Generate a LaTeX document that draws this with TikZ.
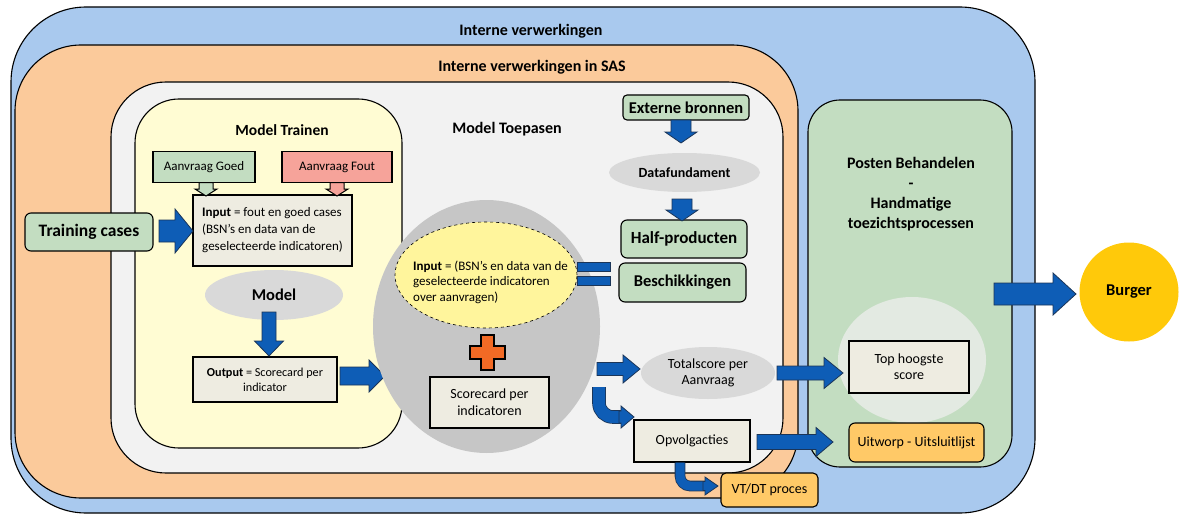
\documentclass[tikz,border=0pt]{standalone}
\usepackage{fontspec}
\setmainfont{Carlito}
\usetikzlibrary{calc,shapes.geometric}
\definecolor{outerblue}{HTML}{A9C9EE}
\definecolor{sasorange}{HTML}{FBCA9B}
\definecolor{innergrey}{HTML}{F2F2F2}
\definecolor{trainyellow}{HTML}{FFFCD3}
\definecolor{boxgreen}{HTML}{C3DDC1}
\definecolor{salmon}{HTML}{F6A39A}
\definecolor{beige}{HTML}{EEECE1}
\definecolor{ellgrey}{HTML}{D9D9D9}
\definecolor{biggrey}{HTML}{C6C6C6}
\definecolor{inputyellow}{HTML}{FFF59C}
\definecolor{arrblue}{HTML}{0E5DB6}
\definecolor{arrborder}{HTML}{1B3558}
\definecolor{crossorange}{HTML}{F26A25}
\definecolor{procorange}{HTML}{FFC967}
\definecolor{burgeryellow}{HTML}{FFC90A}
\definecolor{palecircle}{HTML}{E3EAE2}
% block arrow: [style]{from}{to}{shaft half}{head half}{head length}
\newcommand\barr[6][arrfill]{%
  \filldraw[#1] ($(#2)!#4!90:(#3)$) -- ($(#3)!#6!(#2)!#4!-90:(#2)$) -- ($(#3)!#6!(#2)!#5!-90:(#2)$) -- (#3) -- ($(#3)!#6!(#2)!#5!90:(#2)$) -- ($(#3)!#6!(#2)!#4!90:(#2)$) -- ($(#2)!#4!-90:(#3)$) -- cycle;}
\begin{document}
\begin{tikzpicture}[x=1pt,y=-1pt,
  arrfill/.style={fill=arrblue,draw=arrborder,line width=0.8pt,line join=miter},
  container/.style={draw=black,line width=1.1pt,inner sep=0pt},
  lbl/.style={font=\fontsize{16}{18}\selectfont\bfseries},
  plainbox/.style={draw=black,line width=1.1pt,fill=beige,inner sep=0pt,align=center,font=\fontsize{14}{17}\selectfont},
  greenbox/.style={draw=black,line width=1.1pt,fill=boxgreen,rounded corners=5pt,inner sep=0pt,font=\fontsize{16.5}{18}\selectfont\bfseries},
  orangebox/.style={draw=black,line width=1.1pt,fill=procorange,rounded corners=5pt,inner sep=0pt,font=\fontsize{14}{16}\selectfont},
  greyell/.style={ellipse,fill=ellgrey,inner sep=0pt,align=center}
]
\useasboundingbox (0,0) rectangle (1185,516);

% containers
\node[container,fill=outerblue,minimum width=1024pt,minimum height=506pt,rounded corners=75pt] (outer) at (523,260) {};
\node[container,fill=sasorange,minimum width=783pt,minimum height=453pt,rounded corners=66pt] (sas) at (406.5,271.5) {};
\node[container,fill=innergrey,minimum width=672pt,minimum height=391pt,rounded corners=55pt] (toep) at (447,277.5) {};
\node[container,fill=trainyellow,minimum width=267pt,minimum height=349pt,rounded corners=44pt] (train) at (268.5,273.5) {};
\node[container,fill=boxgreen,minimum width=204pt,minimum height=367pt,rounded corners=32pt] (posten) at (910,283.5) {};

\node[lbl] (l1) at (531,31) {Interne verwerkingen};
\node[lbl] (l2) at (532,67) {Interne verwerkingen in SAS};
\node[lbl,font=\fontsize{15.5}{18}\selectfont\bfseries] (l3) at (282,130) {Model Trainen};
\node[lbl] (l4) at (507,129) {Model Toepasen};
\node[font=\fontsize{16}{20}\selectfont\bfseries,align=center] (l5) at (911,194) {Posten Behandelen\\-\\Handmatige\\toezichtsprocessen};

% Model trainen
\node[greenbox,rounded corners=6pt,minimum width=128pt,minimum height=38pt,font=\fontsize{17.5}{19}\selectfont\bfseries] (tc) at (89,232) {Training cases};
\node[plainbox,minimum width=159pt,minimum height=71pt,align=left,font=\fontsize{13}{17}\selectfont] (inp) at (272.5,230.5) {\textbf{Input} = fout en goed cases\\(BSN's en data van de\\geselecteerde indicatoren)};
\node[plainbox,fill=boxgreen,minimum width=102pt,minimum height=31pt,font=\fontsize{13}{15}\selectfont] (goed) at (204,167) {Aanvraag Goed};
\node[plainbox,fill=salmon,minimum width=110pt,minimum height=31pt,font=\fontsize{13}{15}\selectfont] (fout) at (337,167) {Aanvraag Fout};
\coordinate (g1) at (206,182.5); \coordinate (g2) at (206,196);
\coordinate (f1) at (337,182.5); \coordinate (f2) at (337,196);
\barr[fill=boxgreen,draw=black,line width=1pt]{g1}{g2}{7pt}{11pt}{7pt}
\barr[fill=salmon,draw=black,line width=1pt]{f1}{f2}{7pt}{11pt}{7pt}
\coordinate (a1s) at (159,231); \coordinate (a1e) at (193,231);
\barr{a1s}{a1e}{11pt}{22pt}{18pt}

\node[greyell,minimum width=138pt,minimum height=50pt,font=\fontsize{16.5}{18}\selectfont\bfseries] (model) at (274,295) {Model};
\node[plainbox,minimum width=144pt,minimum height=45pt,font=\fontsize{12.2}{15}\selectfont] (outp) at (265,379.5) {\textbf{Output} = Scorecard per\\indicator};
\coordinate (a2s) at (269,312); \coordinate (a2e) at (269,356);
\barr{a2s}{a2e}{7pt}{14.5pt}{15pt}
\coordinate (a3s) at (340,376); \coordinate (a3e) at (385,376);
\barr{a3s}{a3e}{9pt}{16pt}{16pt}

% Model toepasen
\node[ellipse,fill=biggrey,minimum width=227pt,minimum height=253pt,inner sep=0pt] (big) at (486.5,326.5) {};
\node[ellipse,fill=inputyellow,draw=black,dashed,line width=0.6pt,minimum width=182pt,minimum height=106pt,inner sep=0pt] (inell) at (486,275) {};
\node[anchor=west,align=left,font=\fontsize{13}{15.5}\selectfont,inner sep=0pt] (intext) at (413,282) {\textbf{Input} = (BSN's en data van de\\geselecteerde indicatoren\\over aanvragen)};
\node[fill=arrblue,draw=arrborder,line width=0.8pt,minimum width=33pt,minimum height=9pt,inner sep=0pt] (bar1) at (593.5,266.5) {};
\node[fill=arrblue,draw=arrborder,line width=0.8pt,minimum width=33pt,minimum height=9pt,inner sep=0pt] (bar2) at (593.5,281) {};
\coordinate (cr) at (487.5,352.5);
\filldraw[fill=crossorange,draw=black,line width=1.1pt,shift={(cr)}]
  (-6.5,-17.5) -- (6.5,-17.5) -- (6.5,-6.5) -- (17.5,-6.5) -- (17.5,6.5) -- (6.5,6.5) -- (6.5,17.5) -- (-6.5,17.5) -- (-6.5,6.5) -- (-17.5,6.5) -- (-17.5,-6.5) -- (-6.5,-6.5) -- cycle;
\node[plainbox,minimum width=119pt,minimum height=51pt] (score) at (489.5,402.5) {Scorecard per\\indicatoren};

\node[greenbox,rounded corners=4pt,minimum width=126pt,minimum height=25pt] (ext) at (686,107.5) {Externe bronnen};
\node[greyell,minimum width=151pt,minimum height=39pt,font=\fontsize{14}{16}\selectfont\bfseries] (dataf) at (684.5,172.5) {Datafundament};
\node[greenbox,rounded corners=6pt,minimum width=126pt,minimum height=38pt,font=\fontsize{17}{19}\selectfont\bfseries] (half) at (684,239) {Half-producten};
\node[greenbox,rounded corners=6pt,minimum width=127pt,minimum height=39pt] (besch) at (682.5,282.5) {Beschikkingen};
\coordinate (a4s) at (681,120); \coordinate (a4e) at (681,143);
\barr{a4s}{a4e}{10pt}{16pt}{11pt}
\coordinate (a5s) at (682,199); \coordinate (a5e) at (682,221);
\barr{a5s}{a5e}{10pt}{16pt}{11pt}

\node[greyell,minimum width=134pt,minimum height=52pt,font=\fontsize{14}{16}\selectfont] (tot) at (708,373) {Totalscore per\\Aanvraag};
\coordinate (a6s) at (597,369); \coordinate (a6e) at (640,369);
\barr{a6s}{a6e}{6.5pt}{14pt}{17pt}
\node[plainbox,minimum width=116pt,minimum height=42pt] (opv) at (692,441) {Opvolgacties};
% bent arrow to Opvolgacties
\coordinate (b1s) at (599,387); \coordinate (b1m) at (623,417); \coordinate (b1e) at (634,417);
\draw[arrborder,line width=13.6pt] (b1s) -- (599,403) arc[start angle=180,end angle=90,radius=14] -- (b1m);
\draw[arrblue,line width=12pt] (b1s) -- (599,403) arc[start angle=180,end angle=90,radius=14] -- (b1m);
\coordinate (b1h) at (619,417);
\barr{b1h}{b1e}{6pt}{11pt}{13pt}

\node[orangebox,minimum width=97pt,minimum height=34pt] (vtdt) at (769.5,490) {VT/DT proces};
% bent arrow to VT/DT
\coordinate (b2s) at ($(opv.south)+(-12,0)$); \coordinate (b2m) at (706,486); \coordinate (b2e) at (718,486);
\draw[arrborder,line width=10.6pt] (b2s) -- (680,476) arc[start angle=180,end angle=90,radius=10] -- (b2m);
\draw[arrblue,line width=9pt] (b2s) -- (680,476) arc[start angle=180,end angle=90,radius=10] -- (b2m);
\coordinate (b2h) at (703,486);
\barr{b2h}{b2e}{4.5pt}{9pt}{13pt}

% Posten behandelen
\node[ellipse,fill=palecircle,minimum width=148pt,minimum height=126pt,inner sep=0pt] (pale) at (912,360) {};
\node[plainbox,minimum width=120pt,minimum height=52pt,font=\fontsize{14}{16}\selectfont] (top) at (909,367) {Top hoogste\\score};
\node[orangebox,rounded corners=6pt,minimum width=135pt,minimum height=39pt] (uit) at (916.5,442.5) {Uitworp - Uitsluitlijst};
\coordinate (a7s) at (777,373); \coordinate (a7e) at (843,373);
\barr{a7s}{a7e}{7pt}{15.5pt}{19pt}
\coordinate (a8s) at (757,442); \coordinate (a8e) at (833,442);
\barr{a8s}{a8e}{7.5pt}{14.5pt}{17pt}

% Burger
\node[circle,fill=burgeryellow,minimum size=99pt,inner sep=0pt,font=\fontsize{16.5}{18}\selectfont\bfseries] (burger) at (1129,292) {Burger};
\coordinate (a9s) at (994,294); \coordinate (a9e) at (1076,294);
\barr{a9s}{a9e}{11pt}{21pt}{23pt}
\end{tikzpicture}
\end{document}
